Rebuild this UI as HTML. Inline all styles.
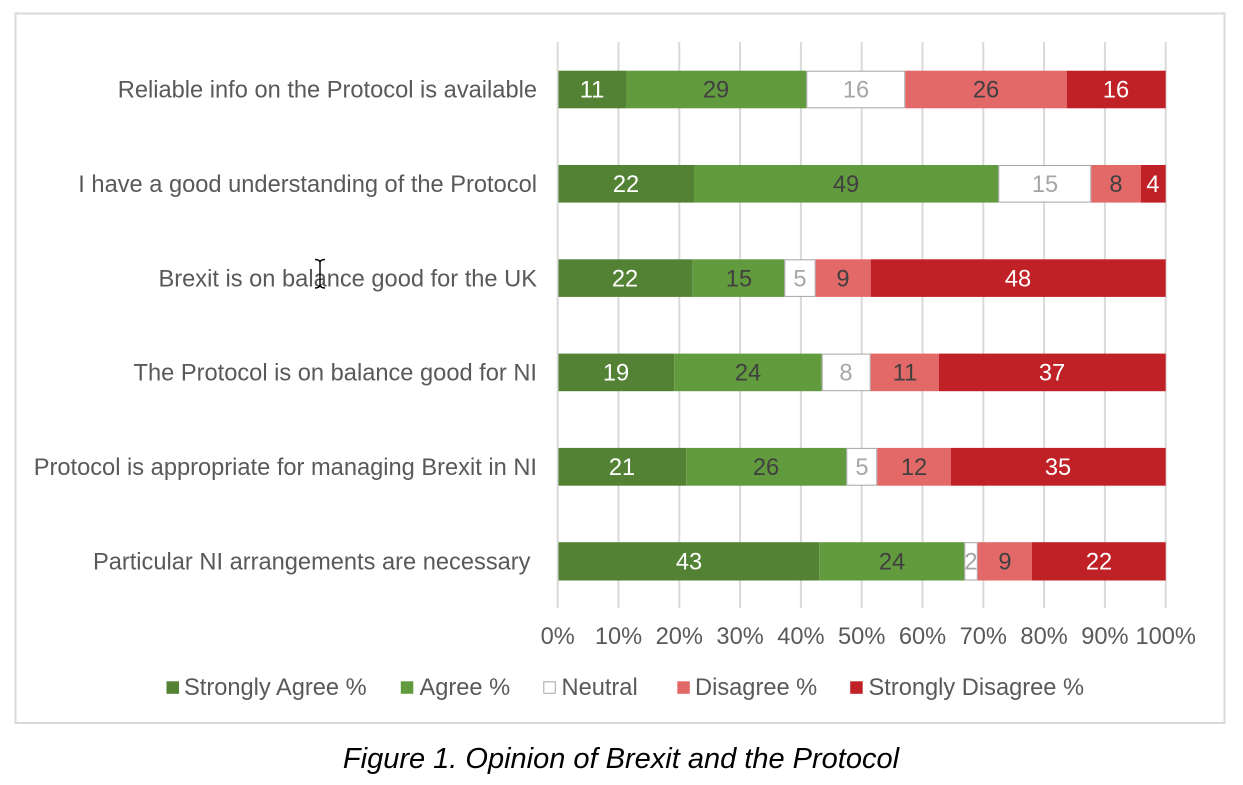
<!DOCTYPE html>
<html>
<head>
<meta charset="utf-8">
<style>
  html,body{margin:0;padding:0;background:#fff;}
  svg{display:block;}
  text{font-family:"Liberation Sans", Arial, sans-serif;}
</style>
</head>
<body>
<svg width="1243" height="785" viewBox="0 0 1243 785" xmlns="http://www.w3.org/2000/svg">
  <rect x="0" y="0" width="1243" height="785" fill="#ffffff"/>
  <!-- outer chart border -->
  <rect x="15.5" y="13.5" width="1209" height="709.5" fill="none" stroke="#d9d9d9" stroke-width="2"/>

  <!-- gridlines -->
  <g stroke="#d9d9d9" stroke-width="2">
    <line x1="557.7" y1="42" x2="557.7" y2="608"/>
    <line x1="618.5" y1="42" x2="618.5" y2="608"/>
    <line x1="679.3" y1="42" x2="679.3" y2="608"/>
    <line x1="740.1" y1="42" x2="740.1" y2="608"/>
    <line x1="800.9" y1="42" x2="800.9" y2="608"/>
    <line x1="861.7" y1="42" x2="861.7" y2="608"/>
    <line x1="922.5" y1="42" x2="922.5" y2="608"/>
    <line x1="983.3" y1="42" x2="983.3" y2="608"/>
    <line x1="1044.1" y1="42" x2="1044.1" y2="608"/>
    <line x1="1104.9" y1="42" x2="1104.9" y2="608"/>
    <line x1="1165.7" y1="42" x2="1165.7" y2="608"/>
  </g>

  <!-- Row 1 -->
  <g>
    <rect x="558.5" y="70.7" width="67.5" height="37.6" fill="#548235"/>
    <rect x="626" y="70.7" width="180.3" height="37.6" fill="#629a3e"/>
    <rect x="806.8" y="71.2" width="98" height="36.6" fill="#ffffff" stroke="#a6a6a6" stroke-width="1"/>
    <rect x="905.3" y="70.7" width="161.4" height="37.6" fill="#e36969"/>
    <rect x="1066.7" y="70.7" width="99" height="37.6" fill="#c02126"/>
  </g>
  <!-- Row 2 -->
  <g>
    <rect x="558.5" y="165" width="135.5" height="37.6" fill="#548235"/>
    <rect x="694" y="165" width="304.3" height="37.6" fill="#629a3e"/>
    <rect x="998.8" y="165.5" width="92" height="36.6" fill="#ffffff" stroke="#a6a6a6" stroke-width="1"/>
    <rect x="1091.3" y="165" width="49.7" height="37.6" fill="#e36969"/>
    <rect x="1141" y="165" width="24.7" height="37.6" fill="#c02126"/>
  </g>
  <!-- Row 3 -->
  <g>
    <rect x="558.5" y="259.3" width="134.2" height="37.6" fill="#548235"/>
    <rect x="692.7" y="259.3" width="91.6" height="37.6" fill="#629a3e"/>
    <rect x="784.8" y="259.8" width="30.4" height="36.6" fill="#ffffff" stroke="#a6a6a6" stroke-width="1"/>
    <rect x="815.7" y="259.3" width="55" height="37.6" fill="#e36969"/>
    <rect x="870.7" y="259.3" width="295" height="37.6" fill="#c02126"/>
  </g>
  <!-- Row 4 -->
  <g>
    <rect x="558.5" y="353.6" width="115.8" height="37.6" fill="#548235"/>
    <rect x="674.3" y="353.6" width="147.4" height="37.6" fill="#629a3e"/>
    <rect x="822.2" y="354.1" width="48" height="36.6" fill="#ffffff" stroke="#a6a6a6" stroke-width="1"/>
    <rect x="870.7" y="353.6" width="68.3" height="37.6" fill="#e36969"/>
    <rect x="939" y="353.6" width="226.7" height="37.6" fill="#c02126"/>
  </g>
  <!-- Row 5 -->
  <g>
    <rect x="558.5" y="447.9" width="127.8" height="37.8" fill="#548235"/>
    <rect x="686.3" y="447.9" width="160" height="37.8" fill="#629a3e"/>
    <rect x="846.8" y="448.4" width="30" height="36.8" fill="#ffffff" stroke="#a6a6a6" stroke-width="1"/>
    <rect x="877.3" y="447.9" width="73.7" height="37.8" fill="#e36969"/>
    <rect x="951" y="447.9" width="214.7" height="37.8" fill="#c02126"/>
  </g>
  <!-- Row 6 -->
  <g>
    <rect x="558.5" y="542.2" width="260.8" height="38.3" fill="#548235"/>
    <rect x="819.3" y="542.2" width="145" height="38.3" fill="#629a3e"/>
    <rect x="964.8" y="542.7" width="12.5" height="37.3" fill="#ffffff" stroke="#a6a6a6" stroke-width="1"/>
    <rect x="977.7" y="542.2" width="54.3" height="38.3" fill="#e36969"/>
    <rect x="1032" y="542.2" width="133.7" height="38.3" fill="#c02126"/>
  </g>

  <!-- data labels -->
  <g font-size="23.65" text-anchor="middle">
    <text x="592" y="97.5" fill="#ffffff">11</text>
    <text x="716" y="97.5" fill="#404040">29</text>
    <text x="856" y="97.5" fill="#a6a6a6">16</text>
    <text x="986" y="97.5" fill="#404040">26</text>
    <text x="1116" y="97.5" fill="#ffffff">16</text>

    <text x="626" y="192" fill="#ffffff">22</text>
    <text x="846" y="192" fill="#404040">49</text>
    <text x="1045" y="192" fill="#a6a6a6">15</text>
    <text x="1116" y="192" fill="#404040">8</text>
    <text x="1153" y="192" fill="#ffffff">4</text>

    <text x="625" y="286.3" fill="#ffffff">22</text>
    <text x="739" y="286.3" fill="#404040">15</text>
    <text x="800" y="286.3" fill="#a6a6a6">5</text>
    <text x="843" y="286.3" fill="#404040">9</text>
    <text x="1018" y="286.3" fill="#ffffff">48</text>

    <text x="616" y="380.6" fill="#ffffff">19</text>
    <text x="748" y="380.6" fill="#404040">24</text>
    <text x="846" y="380.6" fill="#a6a6a6">8</text>
    <text x="905" y="380.6" fill="#404040">11</text>
    <text x="1052" y="380.6" fill="#ffffff">37</text>

    <text x="622" y="475" fill="#ffffff">21</text>
    <text x="766" y="475" fill="#404040">26</text>
    <text x="862" y="475" fill="#a6a6a6">5</text>
    <text x="914" y="475" fill="#404040">12</text>
    <text x="1058" y="475" fill="#ffffff">35</text>

    <text x="689" y="569.5" fill="#ffffff">43</text>
    <text x="892" y="569.5" fill="#404040">24</text>
    <text x="971" y="569.5" fill="#a6a6a6">2</text>
    <text x="1005" y="569.5" fill="#404040">9</text>
    <text x="1099" y="569.5" fill="#ffffff">22</text>
  </g>

  <!-- category labels -->
  <g font-size="23.65" text-anchor="end" fill="#595959">
    <text x="537" y="97.5">Reliable info on the Protocol is available</text>
    <text x="537" y="192">I have a good understanding of the Protocol</text>
    <text x="537" y="286.3">Brexit is on balance good for the UK</text>
    <text x="537" y="380.6">The Protocol is on balance good for NI</text>
    <text x="537" y="475">Protocol is appropriate for managing Brexit in NI</text>
    <text x="530.5" y="569.5">Particular NI arrangements are necessary</text>
  </g>

  <!-- I-beam cursor -->
  <g stroke="#000" stroke-width="1.4" fill="none">
    <line x1="320" y1="261" x2="320" y2="286"/>
    <path d="M315 259.5 Q319 259.5 320 262 Q321 259.5 325 259.5"/>
    <path d="M315 288 Q319 288 320 285.5 Q321 288 325 288"/>
  </g>

  <!-- x axis tick labels -->
  <g font-size="23.65" text-anchor="middle" fill="#595959">
    <text x="557.7" y="644">0%</text>
    <text x="618.5" y="644">10%</text>
    <text x="679.3" y="644">20%</text>
    <text x="740.1" y="644">30%</text>
    <text x="800.9" y="644">40%</text>
    <text x="861.7" y="644">50%</text>
    <text x="922.5" y="644">60%</text>
    <text x="983.3" y="644">70%</text>
    <text x="1044.1" y="644">80%</text>
    <text x="1104.9" y="644">90%</text>
    <text x="1165.7" y="644">100%</text>
  </g>

  <!-- legend -->
  <g font-size="23.65" fill="#595959">
    <rect x="166.5" y="681.3" width="12.5" height="12.5" fill="#548235"/>
    <text x="184" y="695">Strongly Agree %</text>
    <rect x="400.8" y="681.3" width="12.5" height="12.5" fill="#629a3e"/>
    <text x="419.5" y="695">Agree %</text>
    <rect x="543.8" y="681.8" width="11.5" height="11.5" fill="#ffffff" stroke="#a6a6a6" stroke-width="1"/>
    <text x="561.5" y="695">Neutral</text>
    <rect x="677.3" y="681.3" width="12.5" height="12.5" fill="#e36969"/>
    <text x="695" y="695">Disagree %</text>
    <rect x="850.2" y="681.3" width="12.5" height="12.5" fill="#c02126"/>
    <text x="868.5" y="695">Strongly Disagree %</text>
  </g>

  <!-- caption -->
  <text x="621" y="768" font-size="29" font-style="italic" text-anchor="middle" fill="#000000">Figure 1. Opinion of Brexit and the Protocol</text>
</svg>
</body>
</html>
